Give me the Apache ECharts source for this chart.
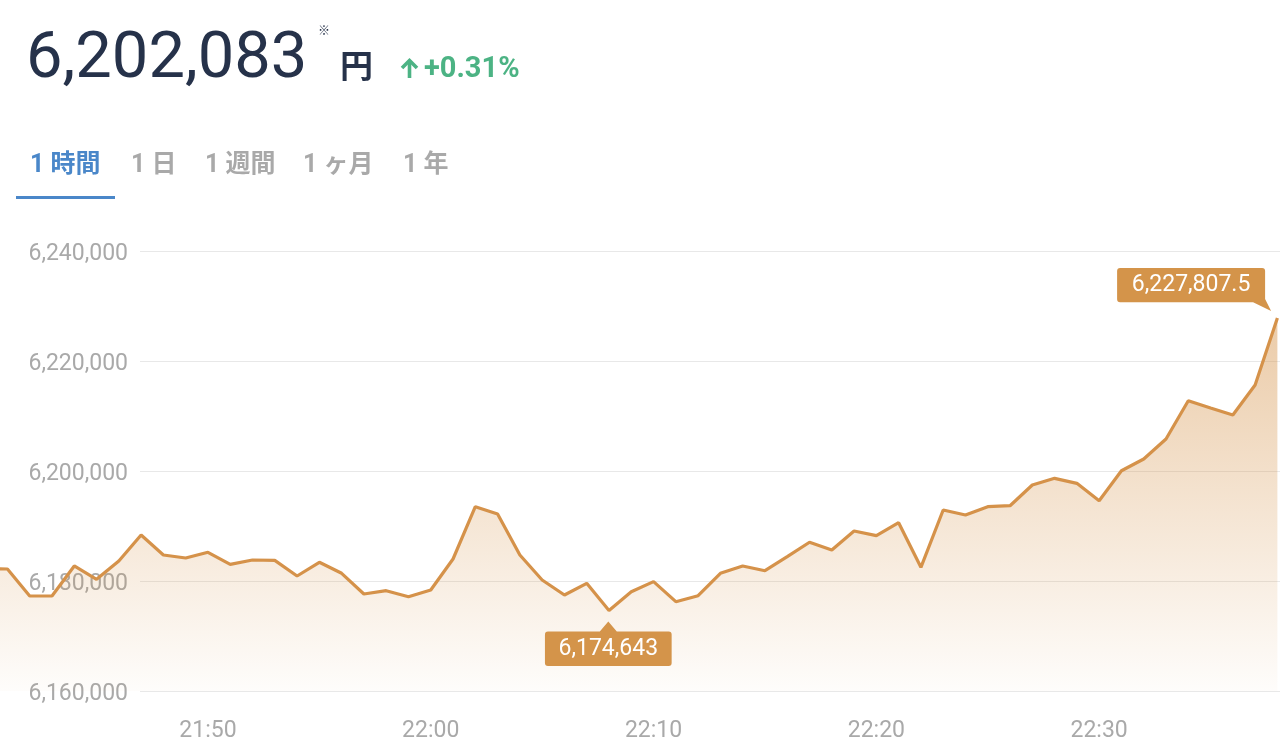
<!DOCTYPE html>
<html>
<head>
<meta charset="utf-8">
<script src="https://cdn.jsdelivr.net/npm/echarts@6/dist/echarts.min.js"></script>
<style>
html,body{margin:0;padding:0;background:#fff;}
#chart{width:1280px;height:754px;}
</style>
</head>
<body>
<div id="chart"></div>
<script>
// ---- data ----
const times = [
  '21:40','21:41','21:42','21:43','21:44','21:45','21:46','21:47','21:48','21:49',
  '21:50','21:51','21:52','21:53','21:54','21:55','21:56','21:57','21:58','21:59',
  '22:00','22:01','22:02','22:03','22:04','22:05','22:06','22:07','22:08','22:09',
  '22:10','22:11','22:12','22:13','22:14','22:15','22:16','22:17','22:18','22:19',
  '22:20','22:21','22:22','22:23','22:24','22:25','22:26','22:27','22:28','22:29',
  '22:30','22:31','22:32','22:33','22:34','22:35','22:36','22:37','22:38'
];
const prices = [
  6182200, 6182180, 6177270, 6177270, 6182730, 6180300, 6183640, 6188360, 6184730, 6184180,
  6185220, 6183030, 6183820, 6183760, 6180910, 6183400, 6181400, 6177640, 6178240, 6177150,
  6178360, 6184000, 6193510, 6192180, 6184730, 6180180, 6177450, 6179580, 6174643, 6178060,
  6179880, 6176240, 6177330, 6181400, 6182730, 6181870, 6184420, 6187040, 6185640, 6189090,
  6188240, 6190600, 6182490, 6192910, 6192000, 6193510, 6193690, 6197450, 6198670, 6197760,
  6194600, 6200050, 6202180, 6205820, 6212780, 6211450, 6210180, 6215640, 6227807.5
];
const xTickLabels = ['21:50','22:00','22:10','22:20','22:30'];
const yTicks = [6160000, 6180000, 6200000, 6220000, 6240000];
const headerPrice = '6,202,083';
const headerUnit = '円';
const headerNote = '※';
const headerChange = '+0.31%';
const tabs = ['1 時間', '1 日', '1 週間', '1 ヶ月', '1 年'];

// ---- helpers ----
// minutes since midnight
function mins(hm, sec) {
  const p = hm.split(':');
  return (+p[0]) * 60 + (+p[1]) + (sec || 0) / 60;
}
function fmt(v) {
  return Number(v).toLocaleString('en-US', {maximumFractionDigits: 2});
}
function hhmm(v) {
  const m = Math.round(v);
  return String(Math.floor(m / 60)).padStart(2, '0') + ':' + String(m % 60).padStart(2, '0');
}
const seriesData = times.map((t, i) => [mins(t), prices[i]]);

const ORANGE = '#D5924A';
const CALLOUT = '#D4944A';
const GRAY = '#A9A9A9';
const NAVY = '#26324A';
const BLUE = '#4A87C9';
const GREEN = '#4CB384';

const minShape = 'path://M63.35,0 L71.85,10 L123.7,10 Q126.7,10 126.7,13 L126.7,41.3 Q126.7,44.3 123.7,44.3 L3,44.3 Q0,44.3 0,41.3 L0,13 Q0,10 3,10 L54.85,10 Z';
const maxShape = 'path://M3,0 L145,0 Q148,0 148,3 L148,31 L154,43 L136,34.3 L3,34.3 Q0,34.3 0,31.3 L0,3 Q0,0 3,0 Z';

const tabX = [30, 131, 205, 303, 403];
const graphics = [
  {type: 'text', x: 26, y: 60.5, style: {text: headerPrice, font: 'normal 65px Roboto', fill: NAVY, verticalAlign: 'middle'}},
  {type: 'text', x: 318, y: 30, style: {text: headerNote, font: '12px "Noto Sans CJK JP"', fill: NAVY, verticalAlign: 'middle'}},
  {type: 'text', x: 340, y: 65, style: {text: headerUnit, font: 'bold 33px "Noto Sans CJK JP"', fill: NAVY, verticalAlign: 'middle'}},
  {type: 'polyline', shape: {points: [[409.5, 78], [409.5, 61]]}, style: {stroke: GREEN, lineWidth: 3.6, fill: null}},
  {type: 'polyline', shape: {points: [[402, 68], [409.5, 60.5], [417, 68]]}, style: {stroke: GREEN, lineWidth: 3.6, fill: null, lineJoin: 'miter'}},
  {type: 'text', x: 424, y: 69.5, style: {text: headerChange, font: 'bold 29px Roboto', fill: GREEN, verticalAlign: 'middle'}},
  {type: 'rect', shape: {x: 16, y: 196, width: 99, height: 3}, style: {fill: BLUE}}
];
tabs.forEach((t, i) => {
  graphics.push({type: 'text', x: tabX[i], y: 166, style: {
    text: t, font: 'bold 25px Roboto, "Noto Sans CJK JP"', fill: i === 0 ? BLUE : GRAY, verticalAlign: 'middle'}});
});

const chart = echarts.init(document.getElementById('chart'), null, {renderer: 'canvas'});
chart.setOption({
  animation: false,
  backgroundColor: '#fff',
  textStyle: {fontFamily: 'Roboto, "Noto Sans CJK JP", sans-serif'},
  graphic: graphics,
  grid: [
    {left: 0, right: 0, top: 251, bottom: 63},
    {left: 140, right: 0, top: 251, bottom: 63}
  ],
  xAxis: [
    {
      type: 'value', gridIndex: 0,
      min: mins('21:40', 40), max: mins('22:38', 7),
      axisLine: {show: false}, axisTick: {show: false}, splitLine: {show: false},
      axisLabel: {
        customValues: xTickLabels.map(t => mins(t)),
        formatter: v => hhmm(v),
        color: GRAY, fontSize: 23, margin: 29
      }
    },
    {type: 'value', gridIndex: 1, min: 0, max: 1, show: false}
  ],
  yAxis: [
    {type: 'value', gridIndex: 0, min: yTicks[0], max: yTicks[yTicks.length - 1], interval: 20000, show: false},
    {
      type: 'value', gridIndex: 1, min: yTicks[0], max: yTicks[yTicks.length - 1], interval: 20000,
      axisLine: {show: false}, axisTick: {show: false},
      splitLine: {show: true, lineStyle: {color: '#E8E8E8', width: 1}},
      axisLabel: {color: GRAY, fontSize: 23, margin: 12, verticalAlign: 'top', lineHeight: 7, formatter: v => fmt(v)}
    }
  ],
  series: [{
    type: 'line',
    xAxisIndex: 0, yAxisIndex: 0,
    data: seriesData,
    showSymbol: false,
    smooth: false,
    lineStyle: {color: ORANGE, width: 3.2},
    itemStyle: {color: ORANGE},
    areaStyle: {
      color: new echarts.graphic.LinearGradient(0, 0, 0, 1, [
        {offset: 0, color: 'rgba(213,146,72,0.68)'},
        {offset: 1, color: 'rgba(213,146,72,0.03)'}
      ])
    },
    markPoint: {
      silent: true,
      animation: false,
      data: [
        {
          type: 'max',
          symbol: maxShape, symbolSize: [154, 43], symbolOffset: [-83.3, -28.6],
          itemStyle: {color: CALLOUT},
          label: {show: true, position: 'inside', offset: [-3, -4.4], color: '#fff', fontSize: 23, fontWeight: 'normal',
                  formatter: p => fmt(p.value)}
        },
        {
          type: 'min',
          symbol: minShape, symbolSize: [126.7, 44.3], symbolOffset: [-0.7, 33.3],
          itemStyle: {color: CALLOUT},
          label: {show: true, position: 'inside', offset: [0, 5], color: '#fff', fontSize: 23, fontWeight: 'normal',
                  formatter: p => fmt(p.value)}
        }
      ]
    }
  }]
});
</script>
</body>
</html>
